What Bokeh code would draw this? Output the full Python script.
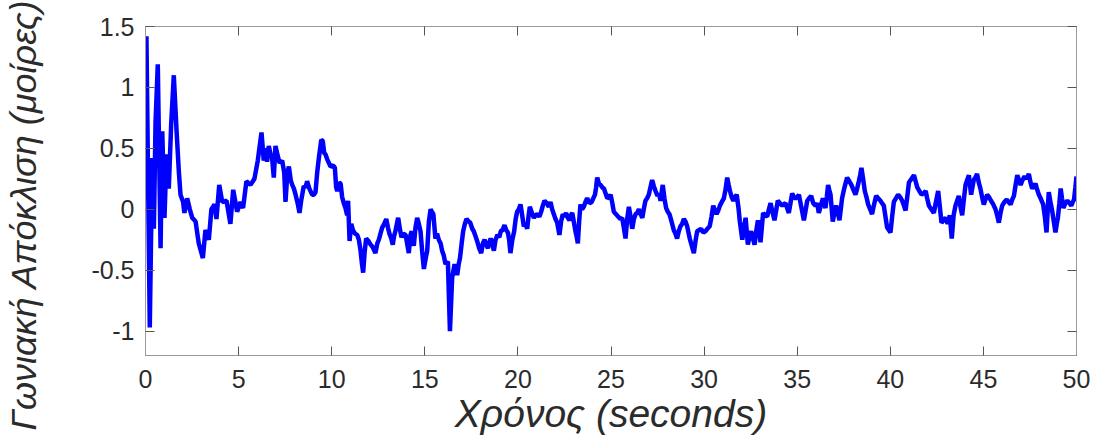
from bokeh.plotting import figure
from bokeh.models import LinearAxis, FixedTicker, Range1d, Title
from bokeh.embed import file_html
from bokeh.resources import INLINE

# ---- data (time in seconds, angular deviation in degrees)
tA = [0, 0.05, 0.23, 0.36, 0.45, 0.54, 0.66, 0.81, 0.9, 1.02, 1.13, 1.25, 1.38, 1.52, 1.67, 1.79, 1.88, 2.02, 2.09, 2.24,
      2.38, 2.51, 2.69, 2.86, 3.08, 3.22, 3.4, 3.54, 3.71, 3.81, 3.96, 4.12, 4.35, 4.56, 4.71, 4.92, 5.1, 5.24, 5.42, 5.64,
      5.85, 6.03, 6.23, 6.35, 6.45, 6.53, 6.62, 6.72, 6.8, 6.89, 6.98, 7.1, 7.2, 7.34, 7.45, 7.52, 7.62, 7.7, 7.8, 7.88,
      7.97, 8.06, 8.17, 8.27, 8.37, 8.5, 8.6, 8.68, 8.8, 8.95, 9.04, 9.13, 9.22, 9.31, 9.44, 9.52, 9.6, 9.67, 9.76, 9.85, 9.94]
yA = [0.09, 1.42, -0.97, 0.42, -0.16, 0.72, 1.19, -0.32, 0.64, -0.07, 0.45, 0.17, 0.70, 1.10, 0.64, 0.31, 0.12, 0.06, -0.03, 0.09,
      0.0, -0.07, -0.10, -0.28, -0.40, -0.17, -0.25, 0.0, 0.04, -0.08, 0.20, 0.06, 0.07, -0.12, 0.16, -0.02, 0.06, 0.01, 0.23, 0.20,
      0.25, 0.40, 0.63, 0.40, 0.50, 0.39, 0.52, 0.45, 0.42, 0.26, 0.52, 0.44, 0.38, 0.40, 0.30, 0.06, 0.30, 0.35, 0.24, 0.20,
      0.17, 0.12, 0.05, -0.03, 0.08, 0.19, 0.18, 0.23, 0.17, 0.12, 0.12, 0.14, 0.30, 0.42, 0.57, 0.56, 0.46, 0.45, 0.41, 0.38, 0.35]

tB = [10.08, 10.17, 10.24, 10.3, 10.4, 10.48, 10.56, 10.65, 10.74, 10.83, 10.88, 10.96, 11.05, 11.14, 11.25, 11.37, 11.46, 11.55,
      11.62, 11.69, 11.77, 11.85, 11.97, 12.09, 12.2, 12.35, 12.45, 12.53, 12.62, 12.71, 12.82, 12.93, 13.02, 13.1, 13.2, 13.28,
      13.35, 13.42, 13.5, 13.57, 13.66, 13.75, 13.85, 13.97, 14.05, 14.14, 14.23, 14.3, 14.41, 14.5, 14.59, 14.68, 14.77, 14.86,
      14.95, 15.05, 15.13, 15.22, 15.31, 15.38, 15.46, 15.57, 15.66, 15.75, 15.85, 15.93, 16.02, 16.11, 16.24, 16.35, 16.47, 16.6,
      16.74, 16.82, 16.89, 16.98, 17.06, 17.15, 17.24, 17.35, 17.44, 17.55, 17.63, 17.72, 17.81, 17.92, 18.03, 18.12, 18.21, 18.3,
      18.39, 18.47, 18.54, 18.62, 18.71, 18.8, 18.9, 19.0, 19.08, 19.18, 19.28, 19.37, 19.46, 19.53, 19.6, 19.7, 19.8, 19.88, 19.96]
yB = [0.36, 0.34, 0.18, 0.15, 0.22, 0.21, 0.10, 0.05, 0.01, -0.05, 0.07, -0.26, -0.12, -0.17, -0.20, -0.21, -0.25, -0.34,
      -0.44, -0.52, -0.35, -0.24, -0.26, -0.29, -0.31, -0.36, -0.28, -0.25, -0.20, -0.15, -0.12, -0.08, -0.15, -0.20, -0.24, -0.29,
      -0.22, -0.18, -0.12, -0.07, -0.16, -0.23, -0.20, -0.21, -0.28, -0.36, -0.21, -0.18, -0.30, -0.15, -0.07, -0.12, -0.18, -0.35,
      -0.49, -0.40, -0.34, -0.10, 0.0, -0.02, -0.04, -0.24, -0.20, -0.25, -0.28, -0.34, -0.38, -0.45, -0.43, -1.0, -0.56, -0.45,
      -0.54, -0.45, -0.40, -0.28, -0.18, -0.12, -0.08, -0.10, -0.11, -0.16, -0.18, -0.22, -0.26, -0.32, -0.36, -0.28, -0.25, -0.29,
      -0.32, -0.27, -0.24, -0.28, -0.34, -0.25, -0.21, -0.23, -0.18, -0.17, -0.13, -0.17, -0.19, -0.25, -0.36, -0.25, -0.18, -0.08, -0.02]

tC = [20.05, 20.14, 20.23, 20.32, 20.41, 20.5, 20.57, 20.64, 20.75, 20.86, 20.95, 21.04, 21.15, 21.25, 21.34, 21.43, 21.55, 21.66,
      21.75, 21.84, 21.93, 22.02, 22.11, 22.17, 22.23, 22.32, 22.41, 22.5, 22.59, 22.68, 22.77, 22.85, 22.92, 23.0, 23.09, 23.15,
      23.22, 23.29, 23.36, 23.45, 23.54, 23.63, 23.72, 23.84, 23.96, 24.05, 24.14, 24.2, 24.26, 24.35, 24.44, 24.53, 24.62, 24.71,
      24.8, 24.89, 24.98, 25.07, 25.15, 25.27, 25.38, 25.5, 25.6, 25.69, 25.78, 25.87, 25.96, 26.05, 26.14, 26.23, 26.32, 26.41,
      26.5, 26.59, 26.68, 26.76, 26.85, 26.94, 27.03, 27.12, 27.21, 27.3, 27.39, 27.5, 27.58, 27.66, 27.72, 27.78, 27.87, 27.96,
      28.05, 28.14, 28.25, 28.37, 28.46, 28.55, 28.64, 28.73, 28.82, 28.91, 29.0, 29.09, 29.16, 29.23, 29.34, 29.45, 29.54, 29.63,
      29.74, 29.84, 29.95]
yC = [0.0, 0.04, -0.05, -0.14, -0.12, -0.16, -0.06, 0.02, -0.03, -0.07, -0.05, -0.04, -0.06, -0.02, 0.03, 0.07, 0.05, 0.02,
      0.06, 0.0, -0.04, -0.08, -0.11, -0.16, -0.21, -0.10, -0.04, -0.06, -0.03, -0.07, -0.09, -0.05, -0.03, -0.10, -0.18, -0.22,
      -0.28, -0.10, 0.04, 0.0, 0.02, 0.06, 0.09, 0.05, 0.06, 0.09, 0.12, 0.18, 0.26, 0.21, 0.20, 0.18, 0.17, 0.13,
      0.09, 0.10, 0.12, 0.05, -0.02, -0.04, -0.06, -0.08, -0.07, -0.15, -0.24, -0.08, 0.02, -0.06, -0.16, -0.08, -0.04, -0.03,
      0.0, -0.04, -0.07, 0.0, 0.07, 0.09, 0.12, 0.18, 0.24, 0.19, 0.15, 0.11, 0.13, 0.07, 0.14, 0.20, 0.09, 0.01,
      -0.02, -0.04, -0.10, -0.17, -0.20, -0.24, -0.18, -0.14, -0.12, -0.08, -0.10, -0.14, -0.19, -0.24, -0.30, -0.36, -0.26, -0.18,
      -0.17, -0.16, -0.19]

tD = [30.07, 30.18, 30.3, 30.4, 30.49, 30.58, 30.67, 30.76, 30.85, 30.95, 31.06, 31.15, 31.24, 31.32, 31.39, 31.48, 31.57, 31.66,
      31.75, 31.84, 31.92, 31.99, 32.05, 32.14, 32.23, 32.29, 32.35, 32.44, 32.53, 32.62, 32.71, 32.8, 32.89, 32.96, 33.03, 33.1,
      33.17, 33.28, 33.39, 33.48, 33.57, 33.67, 33.78, 33.87, 33.96, 34.08, 34.2, 34.28, 34.37, 34.46, 34.55, 34.64, 34.73, 34.82,
      34.91, 35.0, 35.09, 35.22, 35.36, 35.45, 35.54, 35.64, 35.75, 35.86, 35.98, 36.07, 36.16, 36.27, 36.38, 36.45, 36.52, 36.59,
      36.66, 36.72, 36.79, 36.85, 36.91, 37.0, 37.09, 37.18, 37.27, 37.34, 37.41, 37.54, 37.68, 37.8, 37.91, 38.02, 38.13, 38.22,
      38.31, 38.38, 38.45, 38.54, 38.63, 38.72, 38.81, 38.92, 39.02, 39.13, 39.24, 39.35, 39.47, 39.56, 39.65, 39.74, 39.83, 39.92]
yD = [-0.18, -0.16, -0.14, -0.06, 0.03, -0.01, -0.04, -0.01, 0.03, 0.06, 0.09, 0.16, 0.26, 0.20, 0.15, 0.10, 0.07, 0.10,
      0.12, 0.02, -0.10, -0.18, -0.25, -0.15, -0.07, -0.18, -0.29, -0.22, -0.18, -0.24, -0.29, -0.18, -0.09, -0.18, -0.27, -0.15,
      -0.03, -0.05, -0.06, 0.0, 0.05, -0.02, -0.09, -0.01, 0.07, 0.05, 0.03, 0.04, 0.05, 0.01, -0.03, 0.05, 0.13, 0.10,
      0.09, 0.10, 0.12, 0.02, -0.09, -0.01, 0.07, 0.09, 0.11, 0.05, 0.03, 0.05, -0.03, 0.03, 0.09, 0.05, 0.01, 0.10,
      0.20, 0.16, 0.12, 0.01, -0.10, -0.03, 0.03, -0.03, -0.09, 0.0, 0.09, 0.18, 0.26, 0.23, 0.20, 0.16, 0.12, 0.17,
      0.23, 0.28, 0.34, 0.25, 0.15, 0.10, 0.04, 0.0, -0.04, 0.04, 0.11, 0.09, 0.07, 0.05, 0.03, -0.06, -0.15, -0.17]

tE = [40.01, 40.1, 40.19, 40.3, 40.42, 40.53, 40.64, 40.73, 40.82, 40.91, 41.0, 41.14, 41.27, 41.36, 41.45, 41.56, 41.68, 41.79,
      41.9, 41.98, 42.07, 42.2, 42.34, 42.45, 42.57, 42.66, 42.75, 42.86, 42.97, 43.08, 43.2, 43.3, 43.4, 43.5, 43.59, 43.68,
      43.77, 43.86, 43.95, 44.04, 44.13, 44.22, 44.28, 44.34, 44.41, 44.48, 44.57, 44.66, 44.75, 44.84, 44.93, 45.02, 45.11, 45.2,
      45.3, 45.41, 45.53, 45.65, 45.74, 45.83, 45.92, 46.01, 46.13, 46.25, 46.35, 46.46, 46.55, 46.64, 46.73, 46.82, 46.91, 47.0,
      47.1, 47.21, 47.32, 47.44, 47.53, 47.62, 47.71, 47.8, 47.89, 47.98, 48.1, 48.21, 48.3, 48.39, 48.45, 48.51, 48.6, 48.69,
      48.78, 48.87, 48.94, 49.0, 49.08, 49.15, 49.22, 49.3, 49.4, 49.51, 49.62, 49.72, 49.8, 49.87, 49.94, 50.0]
yE = [-0.19, -0.06, 0.06, 0.09, 0.12, 0.10, 0.07, 0.03, -0.01, 0.10, 0.22, 0.25, 0.28, 0.23, 0.18, 0.15, 0.12, 0.13,
      0.15, 0.09, 0.03, 0.0, -0.03, 0.06, 0.15, 0.02, -0.11, -0.09, -0.07, -0.12, -0.05, -0.24, -0.05, 0.03, 0.07, 0.11,
      0.02, -0.05, 0.08, 0.20, 0.24, 0.28, 0.20, 0.12, 0.18, 0.24, 0.26, 0.29, 0.22, 0.17, 0.10, 0.04, 0.08, 0.12,
      0.10, 0.07, 0.04, 0.0, -0.05, -0.11, -0.03, 0.03, 0.06, 0.08, 0.06, 0.04, 0.08, 0.11, 0.20, 0.28, 0.24, 0.20,
      0.24, 0.27, 0.25, 0.29, 0.22, 0.17, 0.19, 0.21, 0.16, 0.12, 0.08, 0.04, -0.06, -0.19, -0.02, 0.14, 0.06, -0.01,
      -0.10, -0.19, -0.12, -0.07, 0.05, 0.17, 0.09, 0.01, 0.05, 0.07, 0.05, 0.03, 0.06, 0.08, 0.18, 0.27]

x_ticks = [0, 5, 10, 15, 20, 25, 30, 35, 40, 45, 50]
y_ticks = [-1, -0.5, 0, 0.5, 1, 1.5]
y_tick_labels = {-1: "-1", -0.5: "-0.5", 0: "0", 0.5: "0.5", 1: "1", 1.5: "1.5"}
x_label = "Χρόνος (seconds)"
y_label = "Γωνιακή Απόκλιση (μοίρες)"

time_s = tA + tB + tC + tD + tE
deviation = yA + yB + yC + yD + yE
n = min(len(time_s), len(deviation))
time_s, deviation = time_s[:n], deviation[:n]

FONT = "Liberation Sans"
BOX = "#9a9a9a"
TICK = "#555555"
TXT = "#2b2b2b"

p = figure(width=1097, height=438, output_backend="svg", toolbar_location=None,
           x_range=Range1d(0, 50), y_range=Range1d(-1.2, 1.5),
           x_axis_location=None, y_axis_location=None,
           min_border_left=145, min_border_right=21, min_border_top=26, min_border_bottom=83)
p.background_fill_color = "white"
p.border_fill_color = "white"
p.outline_line_color = BOX
p.grid.visible = False

p.line(time_s, deviation, line_color="#0000ff", line_width=4.5)

bottom = LinearAxis(ticker=FixedTicker(ticks=x_ticks))
left = LinearAxis(ticker=FixedTicker(ticks=y_ticks))
top = LinearAxis(ticker=FixedTicker(ticks=x_ticks))
right = LinearAxis(ticker=FixedTicker(ticks=y_ticks))
# invisible spacer between the y tick labels and the y title
spacer = LinearAxis(ticker=FixedTicker(ticks=y_ticks))
p.add_layout(bottom, "below")
p.add_layout(left, "left")
p.add_layout(spacer, "left")
p.add_layout(top, "above")
p.add_layout(right, "right")

for ax in [bottom, left, top, right]:
    ax.axis_line_color = BOX
    ax.major_tick_line_color = TICK
    ax.major_tick_in = 9
    ax.major_tick_out = 0
    ax.minor_tick_line_color = None
    ax.major_label_text_font = FONT
    ax.major_label_text_color = TXT
    ax.major_label_text_font_size = "25px"

# mirrored ticks only (no labels) on top and right, as in the reference box
top.major_label_overrides = {v: "" for v in x_ticks}
right.major_label_overrides = {v: "" for v in y_ticks}
spacer.major_label_overrides = {v: "" for v in y_ticks}
for ax in [top, right, spacer]:
    ax.major_label_text_font_size = "1px"
    ax.major_label_standoff = 0

spacer.axis_line_color = None
spacer.major_tick_line_color = None
spacer.minor_tick_line_color = None
spacer.major_tick_in = 0
spacer.major_tick_out = 41

left.major_label_overrides = y_tick_labels
bottom.major_label_standoff = 14
left.major_label_standoff = 11

# x title as the bottom axis label
bottom.axis_label = x_label
bottom.axis_label_text_font = FONT
bottom.axis_label_text_font_style = "italic"
bottom.axis_label_text_font_size = "39px"
bottom.axis_label_text_color = TXT
bottom.axis_label_standoff = 1

# y title as a side title, started below the frame like the reference
yt = Title(text=y_label, align="left", vertical_align="top", offset=-75, standoff=4,
           text_font=FONT, text_font_style="italic", text_font_size="36px",
           text_color=TXT)
p.add_layout(yt, "left")

open("out.html", "w").write(file_html(p, INLINE))
